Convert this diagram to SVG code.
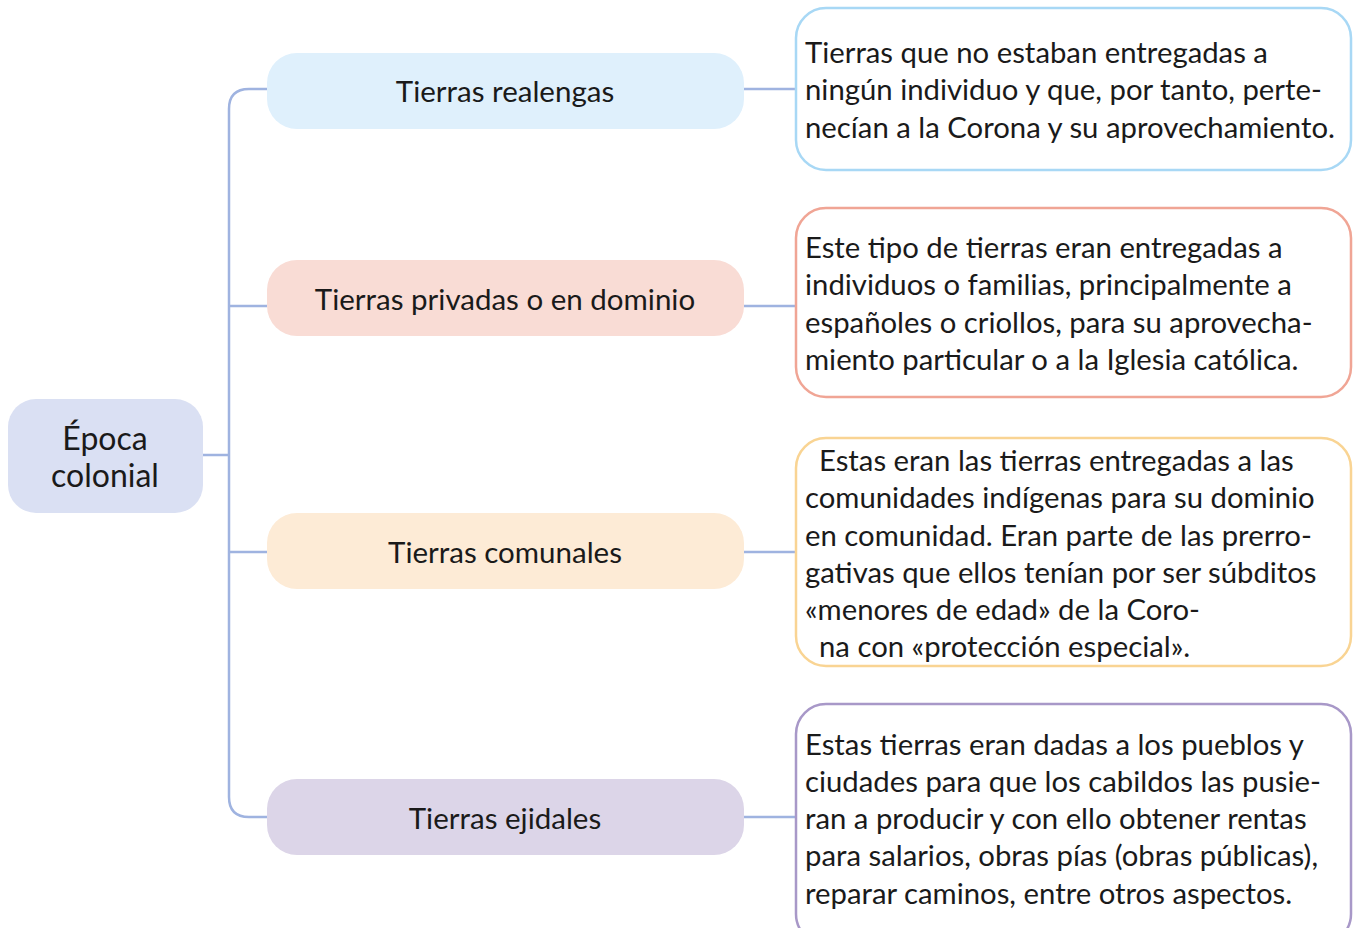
<svg xmlns="http://www.w3.org/2000/svg" width="1354" height="928" viewBox="0 0 1354 928">
<style>
.t{font-family:Lato,"Open Sans","Liberation Sans",sans-serif;fill:#1a1a1a}
.n{font-size:29.5px;text-anchor:middle}
.d{font-size:29.3px}
.c{fill:none;stroke:#9fb3e0;stroke-width:2.5}
.box{fill:#fff;stroke-width:2.5}
</style>
<rect width="1354" height="928" fill="#fff"/>
<g id="connectors">
<path class="c" d="M203 455 H229"/>
<path class="c" d="M267 89 H249 Q229 89 229 109 V797 Q229 817 249 817 H267"/>
<path class="c" d="M229 306 H267"/>
<path class="c" d="M229 552 H267"/>
<path class="c" d="M744 89 H795"/>
<path class="c" d="M744 306 H795"/>
<path class="c" d="M744 552 H795"/>
<path class="c" d="M744 817 H795"/>
</g>
<g id="root">
<rect x="8" y="399" width="195" height="114" rx="28" fill="#dae0f3"/>
<text class="t n" x="105" y="450" style="font-size:32px">Época</text>
<text class="t n" x="105" y="487" style="font-size:32px">colonial</text>
</g>
<g id="realengas">
<rect x="267" y="53" width="477" height="76" rx="30" fill="#dff0fc"/>
<text class="t n" x="505" y="102">Tierras realengas</text>
</g>
<g id="privadas">
<rect x="267" y="260" width="477" height="76" rx="30" fill="#f9dcd5"/>
<text class="t n" x="505" y="310">Tierras privadas o en dominio</text>
</g>
<g id="comunales">
<rect x="267" y="513" width="477" height="76" rx="30" fill="#fdebd6"/>
<text class="t n" x="505" y="563">Tierras comunales</text>
</g>
<g id="ejidales">
<rect x="267" y="779" width="477" height="76" rx="30" fill="#dcd5e8"/>
<text class="t n" x="505" y="829">Tierras ejidales</text>
</g>
<g id="desc-realengas">
<rect class="box" x="796" y="8" width="555" height="162" rx="30" stroke="#a8d8f5"/>
<text class="t d" x="805" y="63">Tierras que no estaban entregadas a</text>
<text class="t d" x="805" y="100">ningún individuo y que, por tanto, perte-</text>
<text class="t d" x="805" y="138">necían a la Corona y su aprovechamiento.</text>
</g>
<g id="desc-privadas">
<rect class="box" x="796" y="208" width="555" height="189" rx="30" stroke="#f0a595"/>
<text class="t d" x="805" y="258">Este tipo de tierras eran entregadas a</text>
<text class="t d" x="805" y="295">individuos o familias, principalmente a</text>
<text class="t d" x="805" y="333">españoles o criollos, para su aprovecha-</text>
<text class="t d" x="805" y="370">miento particular o a la Iglesia católica.</text>
</g>
<g id="desc-comunales">
<rect class="box" x="796" y="438" width="555" height="228" rx="30" stroke="#f9d493"/>
<text class="t d" x="819" y="471">Estas eran las tierras entregadas a las</text>
<text class="t d" x="805" y="508">comunidades indígenas para su dominio</text>
<text class="t d" x="805" y="546">en comunidad. Eran parte de las prerro-</text>
<text class="t d" x="805" y="583">gativas que ellos tenían por ser súbditos</text>
<text class="t d" x="805" y="620">«menores de edad» de la Coro-</text>
<text class="t d" x="819" y="657">na con «protección especial».</text>
</g>
<g id="desc-ejidales">
<rect class="box" x="796" y="704" width="555" height="240" rx="30" stroke="#a898c8"/>
<text class="t d" x="805" y="755">Estas tierras eran dadas a los pueblos y</text>
<text class="t d" x="805" y="792">ciudades para que los cabildos las pusie-</text>
<text class="t d" x="805" y="829">ran a producir y con ello obtener rentas</text>
<text class="t d" x="805" y="866">para salarios, obras pías (obras públicas),</text>
<text class="t d" x="805" y="904">reparar caminos, entre otros aspectos.</text>
</g>
</svg>
